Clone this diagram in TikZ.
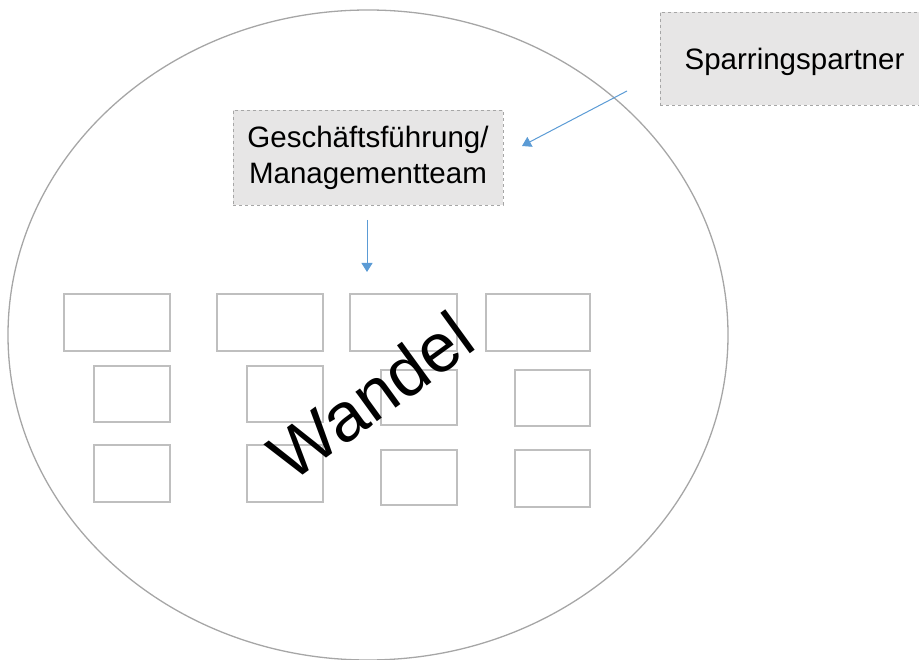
\documentclass[tikz,border=0pt]{standalone}
\usepackage{fontspec}
\setmainfont{Liberation Sans}
\usepackage{tikz}
\usetikzlibrary{arrows.meta, positioning, calc}
\definecolor{mGrayLine}{HTML}{A6A6A6}
\definecolor{mGrayBox}{HTML}{BFBFBF}
\definecolor{mGrayFill}{HTML}{E7E6E6}
\definecolor{mBlueArrow}{HTML}{5B9BD5}

\begin{document}
\begin{tikzpicture}[
    x=1pt, y=-1pt,
    actor/.style={rectangle, draw=mGrayLine, dashed, fill=mGrayFill, line width=0.9pt, align=center, font=\fontsize{29.5}{36}\selectfont, inner sep=0pt},
    unit/.style={rectangle, draw=mGrayBox, line width=1.5pt, minimum width=106pt, minimum height=57pt, inner sep=0pt},
    subunit/.style={unit, minimum width=76pt, minimum height=56pt},
    arrow/.style={line width=1pt, -{Triangle[width=11pt,length=9pt]}, mBlueArrow}
]
    \useasboundingbox (0,0) rectangle (919,660);
    % organisation
    \draw[mGrayLine, line width=1.3pt] (368,335) ellipse [x radius=360, y radius=325];

    \node[actor, minimum width=265pt, minimum height=93pt, text depth=0pt] (spar) at (792.5,58.5) {\hspace*{4pt}Sparringspartner};
    \node[actor, minimum width=270pt, minimum height=95pt] (gf) at (368,157.5) {Geschäftsführung/\\Managementteam};

    % departments
    \node[unit] (d1) at (117,322.5) {};
    \node[unit] (d2) at (270,322.5) {};
    \node[unit, minimum width=107pt] (d3) at (403.5,322.5) {};
    \node[unit, minimum width=104pt] (d4) at (538,322.5) {};

    \node[subunit] (d5) at (132,394) {};
    \node[subunit] (d6) at (285,394) {};
    \node[subunit, minimum height=55pt] (d7) at (419,397.5) {};
    \node[subunit, minimum width=75pt] (d8) at (552.5,398) {};

    \node[subunit, minimum height=57pt] (d9) at (132,473.5) {};
    \node[subunit, minimum height=57pt] (d10) at (285,473.5) {};
    \node[subunit, minimum height=55pt] (d11) at (419,477.5) {};
    \node[subunit, minimum width=75pt, minimum height=57pt] (d12) at (552.5,478.5) {};

    \node[font=\fontsize{69}{72}\selectfont, rotate=36] (wandel) at (371,396) {Wandel};

    % influence
    \coordinate (sparout) at (627,91);
    \coordinate (gfin) at (522,146);
    \coordinate (gfout) at (367,220);
    \coordinate (depin) at (367,272);
    \draw[arrow] (sparout) -- (gfin);
    \draw[arrow] (gfout) -- (depin);
\end{tikzpicture}
\end{document}
